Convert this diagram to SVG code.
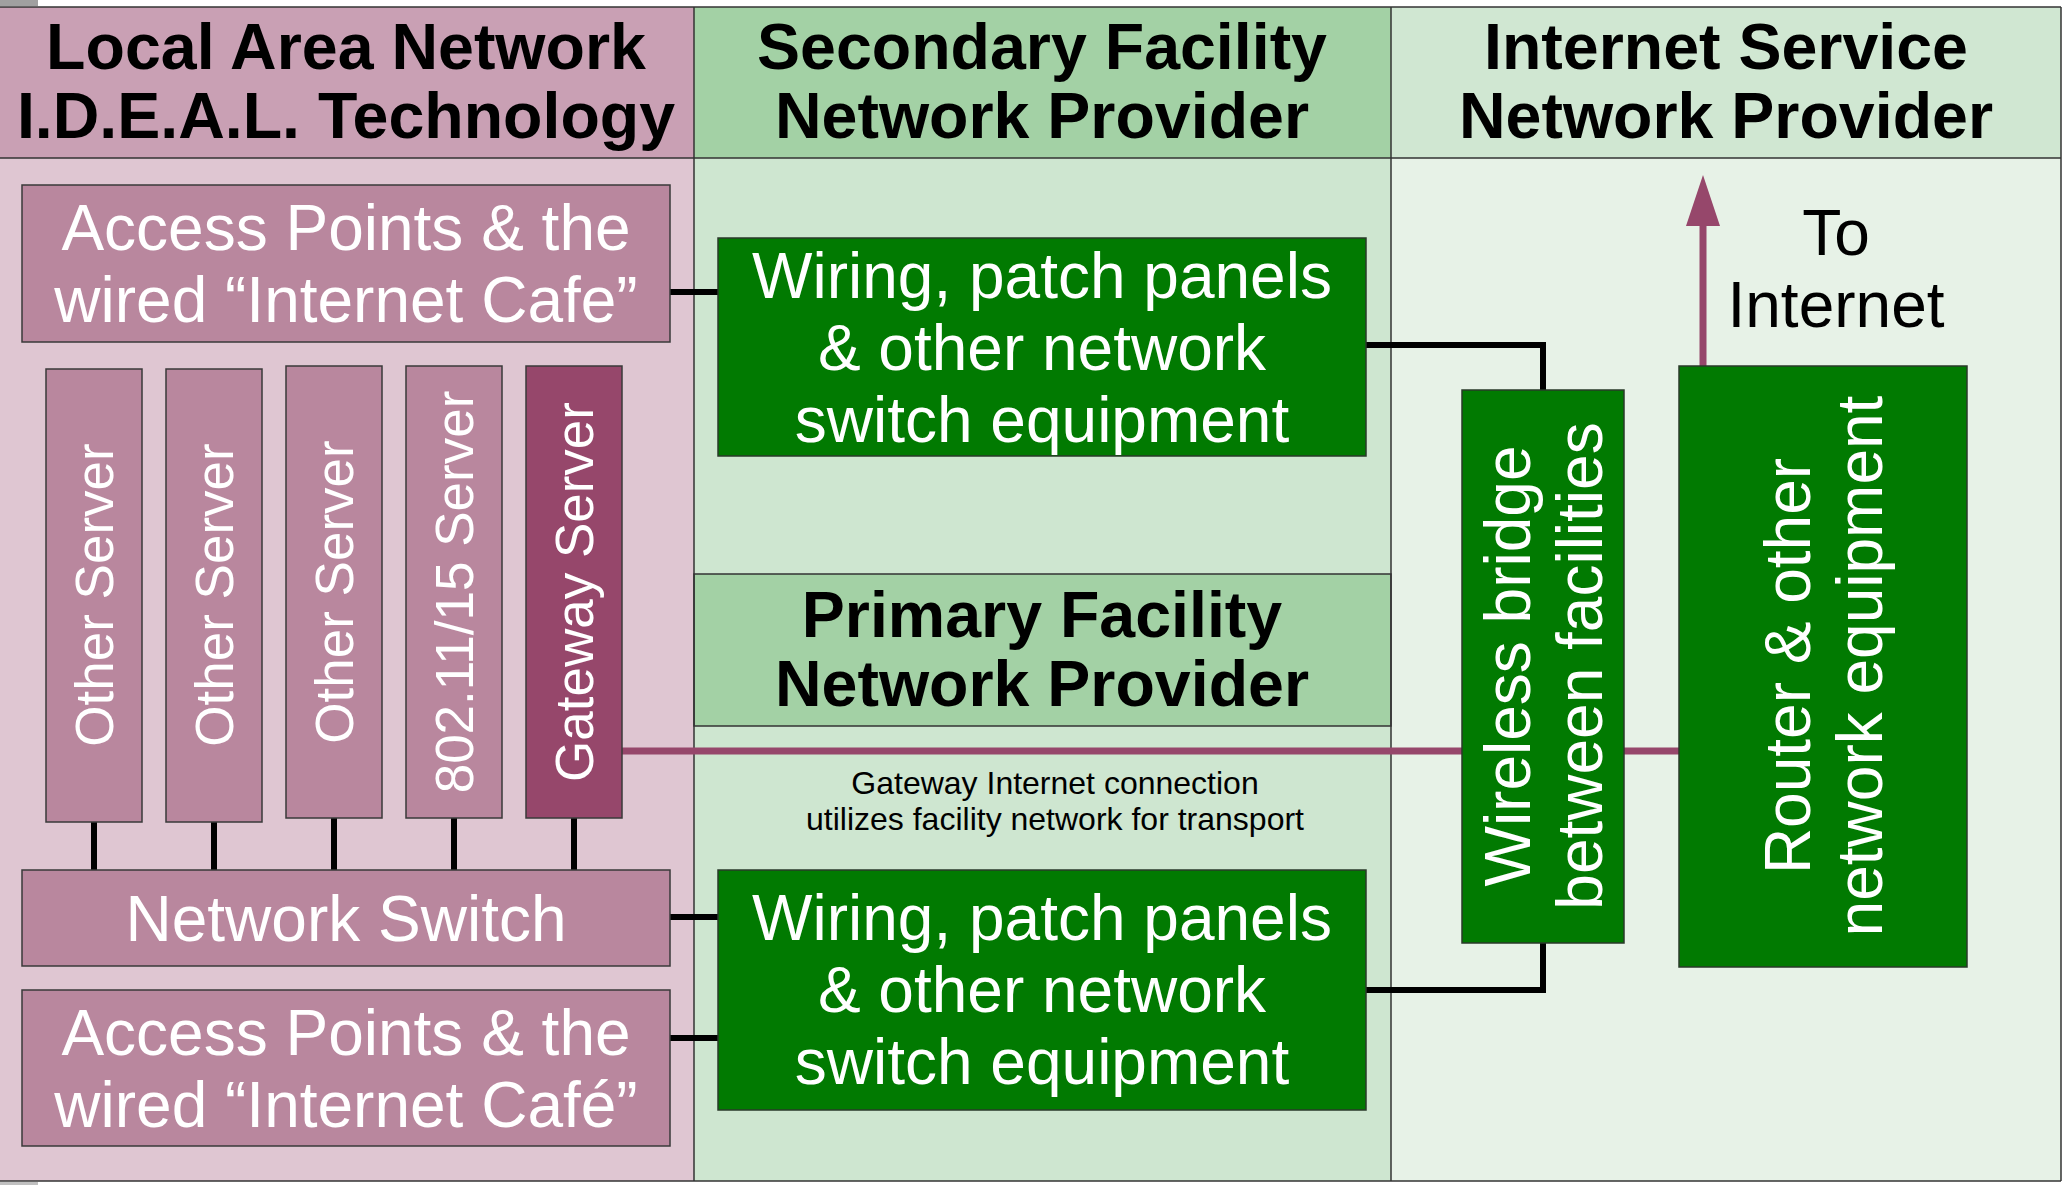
<svg xmlns="http://www.w3.org/2000/svg" width="2065" height="1185" viewBox="0 0 2065 1185">
<style>
.hdr{font-family:"Liberation Sans",Arial,sans-serif;font-weight:bold;font-size:64.5px;fill:#000;text-anchor:middle}
.wt{font-family:"Liberation Sans",Arial,sans-serif;font-size:64px;fill:#fff;text-anchor:middle}
.srv{font-family:"Liberation Sans",Arial,sans-serif;font-size:53px;fill:#fff;text-anchor:middle}
.bt{font-family:"Liberation Sans",Arial,sans-serif;font-size:64px;fill:#000;text-anchor:middle}
.sm{font-family:"Liberation Sans",Arial,sans-serif;font-size:32px;fill:#000;text-anchor:middle}
.mv{fill:#b9879e;stroke:#3a3a3a;stroke-width:1.5}
.gw{fill:#96476b;stroke:#3a3a3a;stroke-width:1.5}
.gr{fill:#017a01;stroke:#2a3a2a;stroke-width:1.5}
.bd{stroke:#333;stroke-width:1.5}
.blk{stroke:#000;stroke-width:6;fill:none}
.mag{stroke:#96476b;stroke-width:7;fill:none}
</style>
<rect x="0" y="0" width="2065" height="1185" fill="#fff"/>
<rect x="0" y="0" width="38" height="6" fill="#a0a0a0"/>
<rect x="0" y="1182" width="38" height="3" fill="#c0c0c0"/>
<g id="columns">
<rect x="0" y="7" width="694" height="151" fill="#c9a0b4"/>
<rect x="0" y="158" width="694" height="1023" fill="#dfc6d2"/>
<rect x="694" y="7" width="697" height="151" fill="#a3d1a5"/>
<rect x="694" y="158" width="697" height="1023" fill="#cee6d0"/>
<rect x="1391" y="7" width="670" height="151" fill="#d0e7d2"/>
<rect x="1391" y="158" width="670" height="1023" fill="#e7f2e7"/>
<rect x="694" y="574" width="697" height="152" fill="#a3d1a5" class="bd"/>
<line x1="0" y1="7" x2="2061" y2="7" class="bd"/>
<line x1="0" y1="158" x2="2061" y2="158" class="bd"/>
<line x1="0" y1="1181" x2="2061" y2="1181" class="bd"/>
<line x1="694" y1="7" x2="694" y2="1181" class="bd"/>
<line x1="1391" y1="7" x2="1391" y2="1181" class="bd"/>
<line x1="2061" y1="7" x2="2061" y2="1181" class="bd"/>
<text class="hdr" x="346" y="69">Local Area Network</text>
<text class="hdr" x="346" y="138">I.D.E.A.L. Technology</text>
<text class="hdr" x="1042" y="69">Secondary Facility</text>
<text class="hdr" x="1042" y="138">Network Provider</text>
<text class="hdr" x="1726" y="69">Internet Service</text>
<text class="hdr" x="1726" y="138">Network Provider</text>
<text class="hdr" x="1042" y="637">Primary Facility</text>
<text class="hdr" x="1042" y="706">Network Provider</text>
</g>
<g id="connectors">
<line x1="94" y1="822" x2="94" y2="870" class="blk"/>
<line x1="214" y1="822" x2="214" y2="870" class="blk"/>
<line x1="334" y1="818" x2="334" y2="870" class="blk"/>
<line x1="454" y1="818" x2="454" y2="870" class="blk"/>
<line x1="574" y1="818" x2="574" y2="870" class="blk"/>
<line x1="670" y1="292" x2="718" y2="292" class="blk"/>
<line x1="670" y1="917" x2="718" y2="917" class="blk"/>
<line x1="670" y1="1038" x2="718" y2="1038" class="blk"/>
<polyline points="1366,345 1543,345 1543,390" class="blk"/>
<polyline points="1366,990 1543,990 1543,943" class="blk"/>
<line x1="622" y1="751" x2="1679" y2="751" class="mag"/>
<line x1="1703" y1="366" x2="1703" y2="222" class="mag"/>
<polygon points="1703,175 1686,226 1720,226" fill="#96476b"/>
</g>
<g id="ap-top">
<rect x="22" y="185" width="648" height="157" class="mv"/>
<text class="wt" x="346" y="250">Access Points &amp; the</text>
<text class="wt" x="346" y="322">wired “Internet Cafe”</text>
</g>
<g id="srv1">
<rect x="46" y="369" width="96" height="453" class="mv"/>
<text class="srv" transform="translate(113,595) rotate(-90)">Other Server</text>
</g>
<g id="srv2">
<rect x="166" y="369" width="96" height="453" class="mv"/>
<text class="srv" transform="translate(233,595) rotate(-90)">Other Server</text>
</g>
<g id="srv3">
<rect x="286" y="366" width="96" height="452" class="mv"/>
<text class="srv" transform="translate(353,592) rotate(-90)">Other Server</text>
</g>
<g id="srv4">
<rect x="406" y="366" width="96" height="452" class="mv"/>
<text class="srv" transform="translate(473,592) rotate(-90)">802.11/15 Server</text>
</g>
<g id="gateway">
<rect x="526" y="366" width="96" height="452" class="gw"/>
<text class="srv" transform="translate(593,592) rotate(-90)">Gateway Server</text>
</g>
<g id="switch">
<rect x="22" y="870" width="648" height="96" class="mv"/>
<text class="wt" x="346" y="941">Network Switch</text>
</g>
<g id="ap-bottom">
<rect x="22" y="990" width="648" height="156" class="mv"/>
<text class="wt" x="346" y="1055">Access Points &amp; the</text>
<text class="wt" x="346" y="1127">wired “Internet Café”</text>
</g>
<g id="wiring-top">
<rect x="718" y="238" width="648" height="218" class="gr"/>
<text class="wt" x="1042" y="298">Wiring, patch panels</text>
<text class="wt" x="1042" y="370">&amp; other network</text>
<text class="wt" x="1042" y="442">switch equipment</text>
</g>
<g id="wiring-bottom">
<rect x="718" y="870" width="648" height="240" class="gr"/>
<text class="wt" x="1042" y="940">Wiring, patch panels</text>
<text class="wt" x="1042" y="1012">&amp; other network</text>
<text class="wt" x="1042" y="1084">switch equipment</text>
</g>
<g id="note">
<text class="sm" x="1055" y="794">Gateway Internet connection</text>
<text class="sm" x="1055" y="830">utilizes facility network for transport</text>
</g>
<g id="bridge">
<rect x="1462" y="390" width="162" height="553" class="gr"/>
<text class="wt" transform="translate(1530,666) rotate(-90)">Wireless bridge</text>
<text class="wt" transform="translate(1602,666) rotate(-90)">between facilities</text>
</g>
<g id="router">
<rect x="1679" y="366" width="288" height="601" class="gr"/>
<text class="wt" transform="translate(1810,666) rotate(-90)">Router &amp; other</text>
<text class="wt" transform="translate(1882,666) rotate(-90)">network equipment</text>
</g>
<g id="to-internet">
<text class="bt" x="1836" y="255">To</text>
<text class="bt" x="1836" y="327">Internet</text>
</g>
</svg>
